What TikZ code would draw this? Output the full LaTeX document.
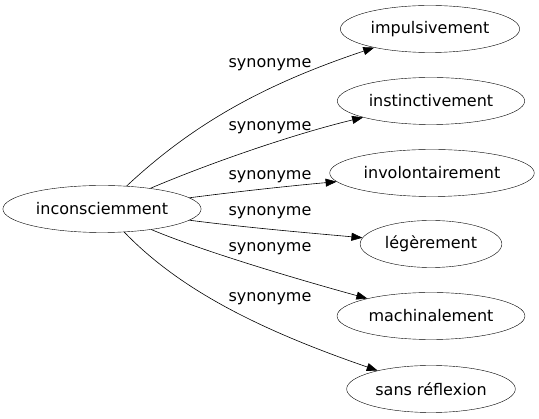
\documentclass[tikz,border=0pt]{standalone}
\usepackage{fontspec}
\setmainfont{DejaVu Sans}
\usetikzlibrary{shapes.geometric,arrows.meta}

\tikzset{
  word/.style={draw,ellipse,inner xsep=4pt,inner ysep=0pt,minimum height=47pt,font=\fontsize{16}{19}\selectfont},
  syn/.style={-{Triangle[length=11pt,width=8pt]},line width=0.6pt},
  synlabel/.style={font=\fontsize{16}{19}\selectfont,inner sep=0pt}
}

\begin{document}
\begin{tikzpicture}[x=1pt,y=-1pt]
	\useasboundingbox (0,0) rectangle (539,419);
	\node[word] (src) at (102,209) {inconsciemment};

	\node[word] (imp) at (430,29) {impulsivement};
	\node[word] (ins) at (431,101) {instinctivement};
	\node[word] (inv) at (432,173) {involontairement};
	\node[word] (leg) at (431,244) {légèrement};
	\node[word] (mac) at (431,316) {machinalement};
	\node[word] (san) at (431,389) {sans réflexion};

	\draw[syn] (src) .. controls (192,125) and (262,85) .. (imp);
	\draw[syn] (src) .. controls (205,165) and (290,135) .. (ins);
	\draw[syn] (src) .. controls (250,190) and (300,185) .. (inv);
	\draw[syn] (src) .. controls (250,228) and (310,233) .. (leg);
	\draw[syn] (src) .. controls (205,252) and (300,280) .. (mac);
	\draw[syn] (src) .. controls (180,290) and (260,330) .. (san);

	\node[synlabel] (l1) at (270,65) {synonyme};
	\node[synlabel] (l2) at (270,128) {synonyme};
	\node[synlabel] (l3) at (270,177) {synonyme};
	\node[synlabel] (l4) at (270,213) {synonyme};
	\node[synlabel] (l5) at (270,249) {synonyme};
	\node[synlabel] (l6) at (270,299) {synonyme};
\end{tikzpicture}
\end{document}
